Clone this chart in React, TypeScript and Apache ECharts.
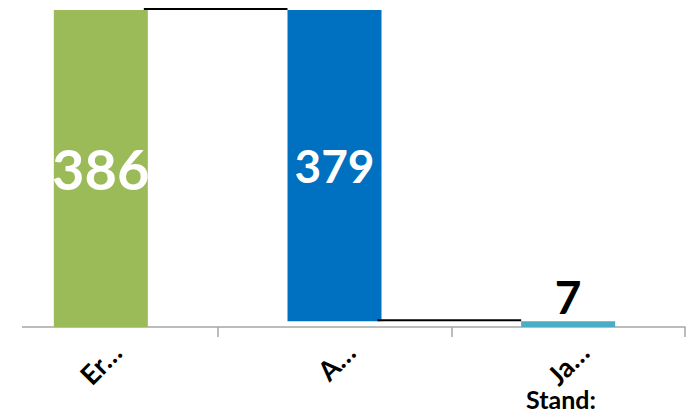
import React, { useEffect, useRef } from "react";
import * as echarts from "echarts";

const categories = ["Er…", "A…", "Ja…"];
const values = [386, 379, 7];
const colors = ["#9BBB59", "#0070C0", "#4BACC6"];
const footnote = "Stand:";

const BAR = 94;
const SHIFT = 16;

export default function App() {
  const ref = useRef<HTMLDivElement>(null);
  useEffect(() => {
    document.body.style.margin = "0";
    document.body.style.overflow = "hidden";
    const chart = echarts.init(ref.current!, null, { renderer: "svg" });
    const endValue = values[0] - values[1];
    const bases = [0, endValue, 0];
    const connectors = [
      [0, values[0]],
      [1, endValue],
    ];
    const FONT = "Lato, 'Open Sans', sans-serif";
    chart.setOption({
      animation: false,
      title: {
        text: footnote,
        left: 526 + SHIFT,
        top: 386,
        textStyle: {
          fontFamily: FONT,
          fontSize: 25,
          lineHeight: 25,
          fontWeight: "bold",
          color: "#000",
        },
        padding: 0,
      },
      grid: { left: 0, right: 6, top: 10, bottom: 91, containLabel: false },
      xAxis: {
        type: "category",
        data: categories,
        axisLine: { show: true, lineStyle: { color: "#A6A6A6", width: 1.5 } },
        axisTick: { show: true, length: 10, lineStyle: { color: "#A6A6A6", width: 1.5 } },
        axisLabel: {
          rotate: 45,
          interval: 0,
          margin: 36,
          padding: [0, -22, 0, 0],
          fontFamily: FONT,
          fontSize: 27,
          fontWeight: "bold",
          color: "#000",
        },
      },
      yAxis: { type: "value", min: 0, max: 386, show: false, splitLine: { show: false } },
      graphic: [
        {
          type: "rect",
          shape: { x: 0, y: 318, width: 22 + SHIFT, height: 16 },
          style: { fill: "#fff" },
          z: 100,
        },
      ],
      series: [
        {
          type: "bar",
          stack: "wf",
          barWidth: BAR,
          data: bases,
          itemStyle: { color: "transparent" },
          silent: true,
        },
        {
          type: "bar",
          stack: "wf",
          barWidth: BAR,
          data: values.map((v, i) => ({
            value: v,
            itemStyle: { color: colors[i] },
            label:
              i === 2
                ? { show: true, position: "top", distance: 2, color: "#000", fontSize: 46 }
                : { show: true, position: "inside", color: "#fff", fontSize: i === 0 ? 56 : 46 },
          })),
          label: { show: true, fontFamily: FONT, fontWeight: "bold" },
        },
        {
          type: "custom",
          data: connectors,
          z: 5,
          renderItem: (params: any, api: any) => {
            const i = api.value(0);
            const lvl = api.value(1);
            const p1 = api.coord([i, lvl]);
            const p2 = api.coord([i + 1, lvl]);
            return {
              type: "line",
              shape: { x1: p1[0] + BAR / 2 - 4, y1: p1[1] - 1, x2: p2[0] - BAR / 2, y2: p2[1] - 1 },
              style: { stroke: "#000", lineWidth: 2 },
            };
          },
        },
      ],
    });
    return () => chart.dispose();
  }, []);
  return <div ref={ref} style={{ width: 691 + SHIFT, height: 418, marginLeft: -SHIFT }} />;
}
